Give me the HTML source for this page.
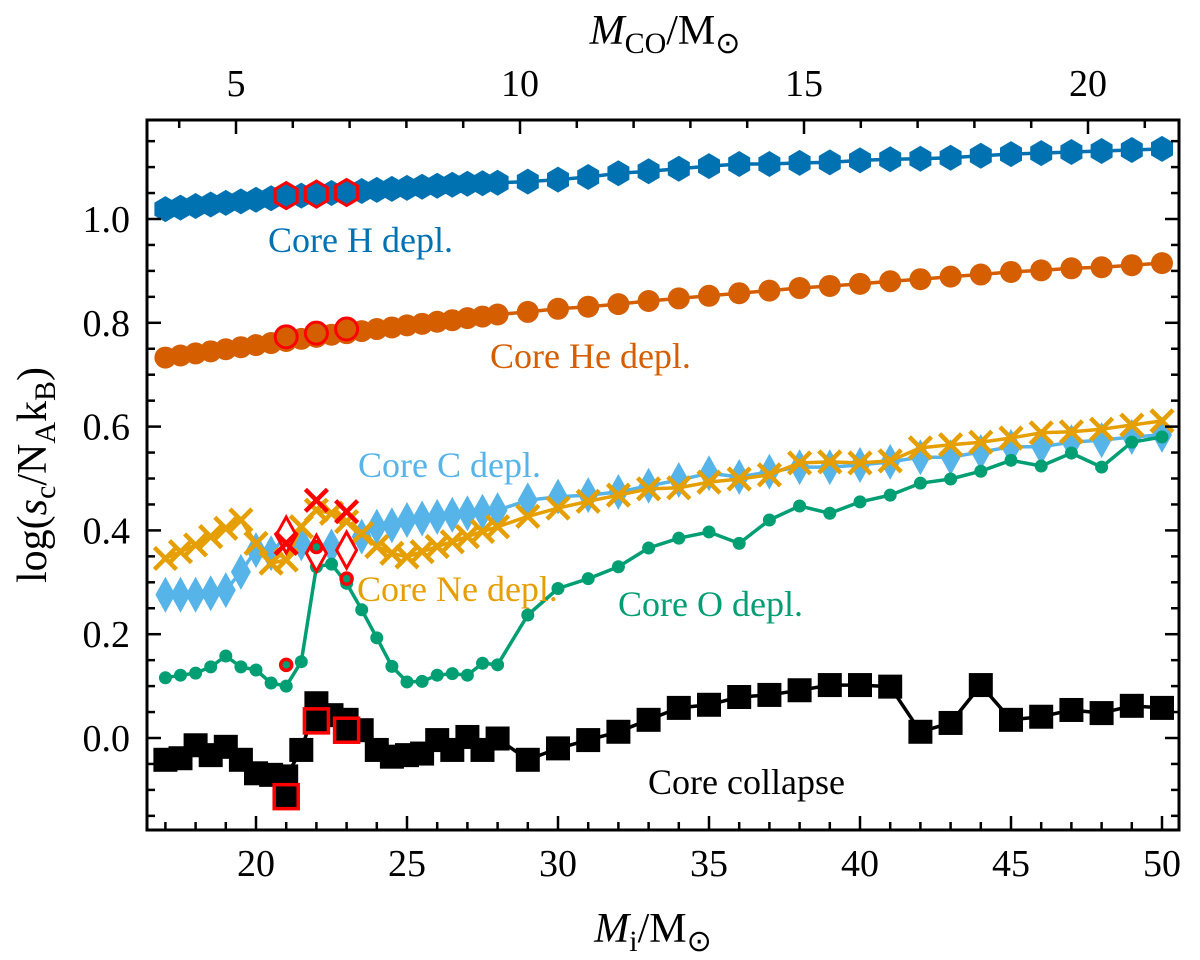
<!DOCTYPE html>
<html><head><meta charset="utf-8"><style>
body{margin:0;background:#fff;}
svg{display:block;font-family:"Liberation Serif",serif;}
</style></head><body>
<svg id="chart" width="1200" height="960" viewBox="0 0 1200 960" xmlns="http://www.w3.org/2000/svg" style="position:absolute;left:0;top:0;">
<g id="layer"></g>
</svg>
<script>
const masses=[17,17.5,18,18.5,19,19.5,20,20.5,21,21.5,22,22.5,23,23.5,24,24.5,25,25.5,26,26.5,27,27.5,28,29,30,31,32,33,34,35,36,37,38,39,40,41,42,43,44,45,46,47,48,49,50];
const hVals=[1.019,1.022,1.025,1.028,1.031,1.034,1.037,1.040,1.043,1.045,1.047,1.050,1.052,1.054,1.056,1.058,1.060,1.062,1.064,1.066,1.068,1.069,1.070,1.072,1.076,1.081,1.088,1.092,1.097,1.102,1.106,1.106,1.108,1.109,1.113,1.115,1.116,1.118,1.122,1.125,1.127,1.129,1.131,1.133,1.135];
const heVals=[0.733,0.737,0.741,0.745,0.749,0.753,0.757,0.761,0.765,0.769,0.773,0.777,0.780,0.784,0.788,0.791,0.795,0.798,0.802,0.805,0.809,0.812,0.816,0.821,0.827,0.831,0.836,0.842,0.847,0.852,0.857,0.862,0.867,0.871,0.875,0.880,0.884,0.889,0.893,0.898,0.901,0.905,0.907,0.911,0.915];
const cVals=[0.276,0.276,0.276,0.279,0.285,0.320,0.362,0.356,0.391,0.375,0.356,0.369,0.362,0.388,0.407,0.410,0.420,0.423,0.426,0.430,0.433,0.436,0.439,0.458,0.465,0.468,0.474,0.486,0.497,0.510,0.503,0.513,0.522,0.522,0.526,0.532,0.541,0.541,0.551,0.561,0.561,0.570,0.574,0.580,0.584];
const neVals=[0.346,0.359,0.372,0.388,0.404,0.420,0.375,0.337,0.343,0.407,0.439,0.433,0.417,0.394,0.369,0.356,0.349,0.359,0.369,0.378,0.388,0.398,0.407,0.427,0.443,0.456,0.468,0.480,0.482,0.493,0.499,0.507,0.530,0.532,0.530,0.534,0.559,0.565,0.570,0.578,0.588,0.590,0.595,0.603,0.611];
const oVals=[0.116,0.121,0.125,0.137,0.158,0.137,0.131,0.106,0.100,0.147,0.330,0.335,0.298,0.247,0.193,0.138,0.108,0.109,0.121,0.124,0.121,0.144,0.141,0.237,0.288,0.307,0.330,0.366,0.385,0.397,0.375,0.420,0.447,0.433,0.455,0.468,0.491,0.499,0.514,0.535,0.524,0.549,0.522,0.570,0.580];
const ccVals=[-0.042,-0.039,-0.014,-0.033,-0.017,-0.042,-0.068,-0.071,-0.074,-0.023,0.067,0.044,0.035,0.015,-0.023,-0.036,-0.033,-0.030,-0.004,-0.023,0.002,-0.023,-0.001,-0.042,-0.020,-0.004,0.012,0.035,0.058,0.064,0.079,0.083,0.092,0.102,0.102,0.099,0.012,0.029,0.102,0.035,0.041,0.054,0.048,0.062,0.058];
const redMasses=[21,22,23];
const redH=[1.045,1.048,1.051];
const redHe=[0.773,0.780,0.788];
const redC=[0.391,0.356,0.362];
const redNe=[0.375,0.458,0.436];
const redO=[0.141,0.368,0.307];
const redCC=[-0.113,0.033,0.015];
const xTicks=[20,25,30,35,40,45,50];
const yTicks=[0.0,0.2,0.4,0.6,0.8,1.0];
const topTicks=[5,10,15,20];

const L=147,R=1179,T=120,B=830;
const X=m=>256+(m-20)*30.2;
const Y=v=>738-v*519;
const XT=c=>236+(c-5)*56.8;
const NS='http://www.w3.org/2000/svg';
const layer=document.getElementById('layer');
function mk(tag,attrs,parent){const e=document.createElementNS(NS,tag);for(const k in attrs)e.setAttribute(k,attrs[k]);(parent||layer).appendChild(e);return e;}

const defs=mk('defs',{});
const cp=mk('clipPath',{id:'clip'},defs);mk('rect',{x:L,y:T,width:R-L,height:B-T},cp);
const plot=mk('g',{'clip-path':'url(#clip)'});



function marker(g,shape,x,y,fill,stroke,sw){
  let e;
  if(shape==='hex'){const w=11,h=13;const p=[[x,y-h],[x+w,y-h/2],[x+w,y+h/2],[x,y+h],[x-w,y+h/2],[x-w,y-h/2]].map(q=>q[0].toFixed(1)+','+q[1].toFixed(1));
    e=mk('polygon',{points:p.join(' '),fill:fill,stroke:stroke,'stroke-width':sw},g);}
  else if(shape==='circle'){e=mk('circle',{cx:x,cy:y,r:11,fill:fill,stroke:stroke,'stroke-width':sw},g);}
  else if(shape==='small'){e=mk('circle',{cx:x,cy:y,r:6.5,fill:fill,stroke:stroke,'stroke-width':sw},g);}
  else if(shape==='diamond'){const w=10,h=18;e=mk('polygon',{points:`${x},${y-h} ${x+w},${y} ${x},${y+h} ${x-w},${y}`,fill:fill,stroke:stroke,'stroke-width':sw},g);}
  else if(shape==='square'){e=mk('rect',{x:x-12,y:y-12,width:24,height:24,fill:fill,stroke:stroke,'stroke-width':sw},g);}
  else if(shape==='x'){const d=11;e=mk('path',{d:`M${x-d},${y-d}L${x+d},${y+d}M${x-d},${y+d}L${x+d},${y-d}`,stroke:fill,'stroke-width':4.5,fill:'none'},g);}
  return e;
}
function series(name,vals,color,shape){
  const g=mk('g',{},plot);
  
  
  const d=masses.map((m,i)=>(i?'L':'M')+X(m).toFixed(1)+','+Y(vals[i]).toFixed(1)).join('');
  const ln=mk('path',{d:d,fill:'none',stroke:color,'stroke-width':3.5,'stroke-linejoin':'round'},g);
  
  
  masses.forEach((m,i)=>{const e=marker(g,shape,X(m),Y(vals[i]),color,'none',0);
    
    });
}
series('core-h',hVals,'#0072B2','hex');
series('core-he',heVals,'#D55E00','circle');
series('core-c',cVals,'#56B4E9','diamond');
series('core-ne',neVals,'#E69F00','x');
series('core-o',oVals,'#009E73','small');
series('core-collapse',ccVals,'#000000','square');

const rg=mk('g',{},plot);


redMasses.forEach((m,i)=>{
  let e;
  e=marker(rg,'hex',X(m),Y(redH[i]),'#0072B2','#ff0000',3);
  e=marker(rg,'circle',X(m),Y(redHe[i]),'#D55E00','#ff0000',3);
  e=marker(rg,'diamond',X(m),Y(redC[i]),'#ffffff','#ff0000',3);
  e=marker(rg,'x',X(m),Y(redNe[i]),'#ff0000','none',0);
  e=mk('circle',{cx:X(m),cy:Y(redO[i]),r:5.5,fill:'#009E73',stroke:'#ff0000','stroke-width':3.5},rg);
  e=marker(rg,'square',X(m),Y(redCC[i]),'#000000','#ff0000',3.5);
});

const labels=[['Core H depl.',268,252,'#0072B2'],['Core He depl.',490,368,'#D55E00'],['Core C depl.',358,477,'#56B4E9'],['Core Ne depl.',357,601,'#E69F00'],['Core O depl.',618,616,'#009E73'],['Core collapse',648,794,'#000000']];
labels.forEach(l=>{const t=mk('text',{x:l[1],y:l[2],fill:l[3],'font-size':36});t.textContent=l[0];
  
  });

const ax=mk('g',{});


mk('rect',{x:L,y:T,width:R-L,height:B-T,fill:'none',stroke:'#000','stroke-width':3},ax);
for(let m=17;m<=50;m++){const x=X(m),len=m%5===0?14:8;
  mk('line',{x1:x,y1:B,x2:x,y2:B-len,stroke:'#000','stroke-width':2.5},ax);}
for(let c=4;c<=21;c++){const x=XT(c),len=c%5===0?14:8;
  mk('line',{x1:x,y1:T,x2:x,y2:T+len,stroke:'#000','stroke-width':2.5},ax);}
for(let k=-3;k<=23;k++){const v=k*0.05,y=Y(v);if(y<T||y>B)continue;const len=(k%4===0)?14:8;
  mk('line',{x1:L,y1:y,x2:L+len,y2:y,stroke:'#000','stroke-width':2.5},ax);
  mk('line',{x1:R,y1:y,x2:R-len,y2:y,stroke:'#000','stroke-width':2.5},ax);}
xTicks.forEach(t=>{const e=mk('text',{x:X(t),y:876,'text-anchor':'middle','font-size':38},ax);e.textContent=t;
  });
topTicks.forEach(t=>{const e=mk('text',{x:XT(t),y:96,'text-anchor':'middle','font-size':38},ax);e.textContent=t;
  });
yTicks.forEach(t=>{const e=mk('text',{x:130,y:Y(t)+13,'text-anchor':'end','font-size':38},ax);e.textContent=t.toFixed(1);
  });
</script>
<svg width="1200" height="960" style="position:absolute;left:0;top:0;pointer-events:none;font-family:'Liberation Serif',serif;">
<text x="653" y="942" text-anchor="middle" font-size="42"><tspan font-style="italic">M</tspan><tspan font-size="30" dy="9">i</tspan><tspan dy="-9">/M</tspan><tspan font-size="30" dy="9">⊙</tspan></text>
<text x="665" y="44" text-anchor="middle" font-size="42"><tspan font-style="italic">M</tspan><tspan font-size="30" dy="9">CO</tspan><tspan dy="-9">/M</tspan><tspan font-size="30" dy="9">⊙</tspan></text>
<text transform="translate(46,475) rotate(-90)" text-anchor="middle" font-size="42">log(<tspan font-style="italic">s</tspan><tspan font-size="30" dy="9">c</tspan><tspan dy="-9">/N</tspan><tspan font-size="30" dy="9">A</tspan><tspan dy="-9">k</tspan><tspan font-size="30" dy="9">B</tspan><tspan dy="-9">)</tspan></text>
</svg>
</body></html>
